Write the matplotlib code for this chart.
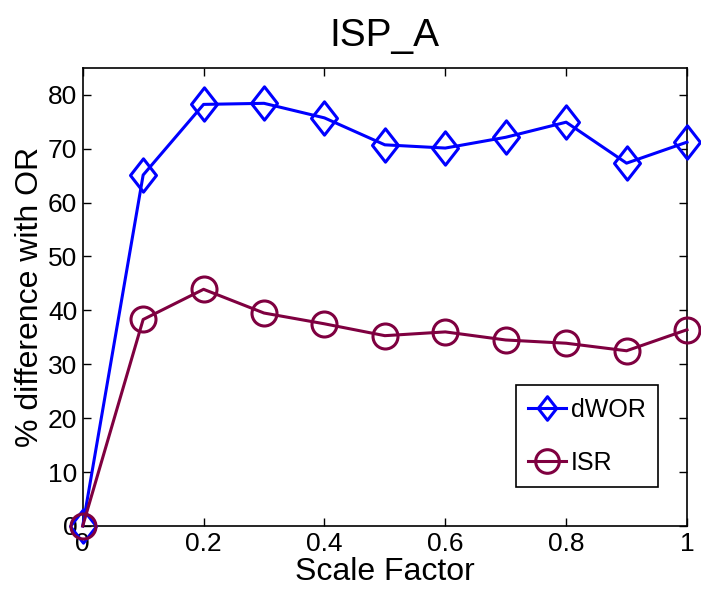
import matplotlib
matplotlib.use('Agg')
import matplotlib.pyplot as plt
from matplotlib.path import Path

plt.rcParams.update({
    'font.family': ['Liberation Sans', 'DejaVu Sans'],
    'font.size': 19,
    'xtick.direction': 'in',
    'ytick.direction': 'in',
    'xtick.top': True,
    'ytick.right': True,
})

scale = [0, 0.1, 0.2, 0.3, 0.4, 0.5, 0.6, 0.7, 0.8, 0.9, 1.0]
dwor = [0, 65.1, 78.2, 78.4, 75.7, 70.7, 70.1, 72.1, 74.9, 67.3, 71.2]
isr = [0, 38.3, 43.9, 39.5, 37.5, 35.3, 36.0, 34.5, 33.9, 32.5, 36.4]

diamond = Path([(0, 1), (0.78, 0), (0, -1), (-0.78, 0), (0, 1)],
               [Path.MOVETO, Path.LINETO, Path.LINETO, Path.LINETO, Path.CLOSEPOLY])

fig = plt.figure(figsize=(7.01, 5.89), dpi=100)
ax = fig.add_axes([0.118, 0.107, 0.862, 0.778])

ax.plot(scale, dwor, color='#0000ff', linewidth=2.2, marker=diamond,
        markersize=24, markerfacecolor='none', markeredgewidth=2.2,
        label='dWOR', clip_on=False, zorder=3)
ax.plot(scale, isr, color='#7f0040', linewidth=2.2, marker='o',
        markersize=18, markerfacecolor='none', markeredgewidth=2.2,
        label='ISR', clip_on=False, zorder=3)

ax.set_xlim(0, 1)
ax.set_ylim(0, 85)
ax.set_xticks([0, 0.2, 0.4, 0.6, 0.8, 1])
ax.set_xticklabels(['0', '0.2', '0.4', '0.6', '0.8', '1'])
ax.set_yticks(range(0, 81, 10))
ax.tick_params(length=6, width=1, pad=4)
for s in ax.spines.values():
    s.set_linewidth(1.2)

ax.set_xlabel('Scale Factor', fontsize=23, labelpad=1)
ax.set_ylabel('% difference with OR', fontsize=23, labelpad=2)
ax.set_title('ISP_A', fontsize=28, pad=16)

leg = ax.legend(loc='lower right', bbox_to_anchor=(0.952, 0.085), fontsize=18,
                fancybox=False, edgecolor='black', framealpha=1,
                handlelength=1.5, handletextpad=0.2, borderpad=0.5,
                labelspacing=1.15, borderaxespad=0)
leg.get_frame().set_linewidth(1.2)
for h in leg.legend_handles:
    h.set_markersize(17)

fig.savefig('out.png', dpi=100)
